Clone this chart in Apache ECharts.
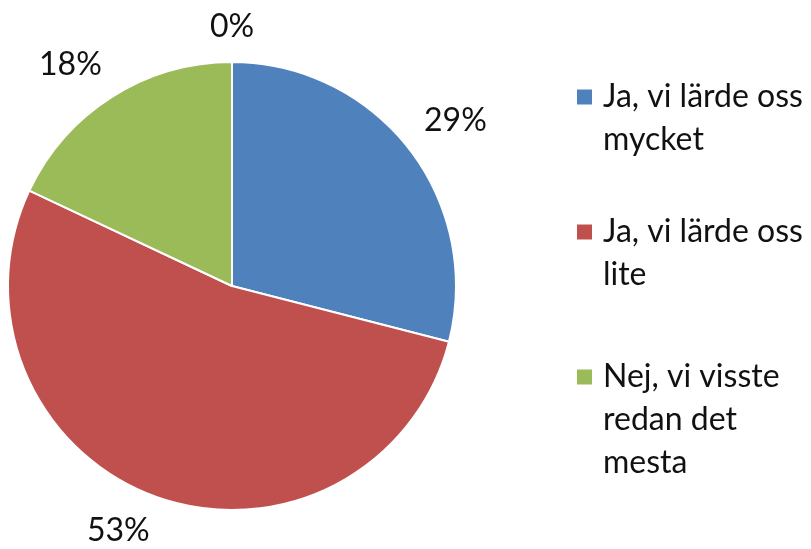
<!DOCTYPE html>
<html>
<head>
<meta charset="utf-8">
<script src="https://cdn.jsdelivr.net/npm/echarts@6/dist/echarts.min.js"></script>
<style>
  html, body { margin: 0; padding: 0; background: #fff; }
  #chart { width: 811px; height: 549px; }
</style>
</head>
<body>
<div id="chart"></div>
<script>
// data
var categories = ["Ja, vi lärde oss\nmycket", "Ja, vi lärde oss\nlite", "Nej, vi visste\nredan det\nmesta", ""];
var values = [29, 53, 18, 0];
var colors = ["#4F81BD", "#C0504D", "#9BBB59", "#8064A2"];
var legendNames = categories.slice(0, 3);

var pieCenter = [232, 286];
var pieRadius = 224;
var fontFamily = "Lato, 'Open Sans', sans-serif";
var fontSize = 32;
var lineH = 43;
// first-line centers of the legend entries
var legendRows = [97, 232, 377];

var total = values.reduce(function (a, b) { return a + b; }, 0);

// angle (from top, clockwise) of the middle of each slice
function midAngle(i) {
  var cum = 0;
  for (var k = 0; k < i; k++) cum += values[k];
  return (cum + values[i] / 2) / total * Math.PI * 2;
}

function clamp1(v) { return Math.max(-1, Math.min(1, v)); }

var chart = echarts.init(document.getElementById("chart"));

// one legend per entry; blank lines before the text put the square on the first line
var legends = legendNames.map(function (name, i) {
  var n = name.split("\n").length;
  return {
    data: [name],
    orient: "vertical",
    left: 577,
    top: legendRows[i] - (2 * n - 1) * lineH / 2,
    padding: 0,
    icon: "rect",
    itemWidth: 15,
    itemHeight: 15,
    selectedMode: false,
    itemStyle: { borderWidth: 0 },
    formatter: function (nm) {
      var lines = nm.split("\n").map(function (l) { return "{t|" + l + "}"; });
      return new Array(n).join("{t|}\n") + lines.join("\n");
    },
    textStyle: {
      fontFamily: fontFamily,
      fontSize: fontSize,
      color: "#111",
      lineHeight: lineH,
      rich: {
        t: {
          fontFamily: fontFamily,
          fontSize: fontSize,
          color: "#111",
          lineHeight: lineH,
          padding: [0, 0, 0, 6]
        }
      }
    }
  };
});

chart.setOption({
  animation: false,
  color: colors,
  legend: legends,
  series: [
    {
      type: "pie",
      center: pieCenter,
      radius: pieRadius,
      startAngle: 90,
      clockwise: true,
      avoidLabelOverlap: false,
      minShowLabelAngle: -1,
      data: categories.map(function (c, i) {
        return { name: c, value: values[i] };
      }),
      itemStyle: { borderColor: "#fff", borderWidth: 2 },
      label: {
        show: true,
        position: "outside",
        formatter: "{d}%",
        fontFamily: fontFamily,
        fontSize: fontSize,
        color: "#111"
      },
      labelLine: { show: false, length: 20, length2: 0 },
      labelLayout: function (params) {
        var a = midAngle(params.dataIndex);
        var dx = Math.sin(a), dy = -Math.cos(a);
        var w = params.labelRect.width, h = params.labelRect.height;
        var gap = 19;
        var x = pieCenter[0] + dx * (pieRadius + gap) + clamp1(dx * 3) * w / 2;
        var y = pieCenter[1] + dy * (pieRadius + gap) + clamp1(dy * 3) * h / 2;
        // keep inside the canvas
        var maxY = 549 - fontSize * 0.3;
        if (y > maxY) y = maxY;
        return { x: x, y: y, align: "center", verticalAlign: "middle" };
      }
    }
  ]
});
</script>
</body>
</html>
